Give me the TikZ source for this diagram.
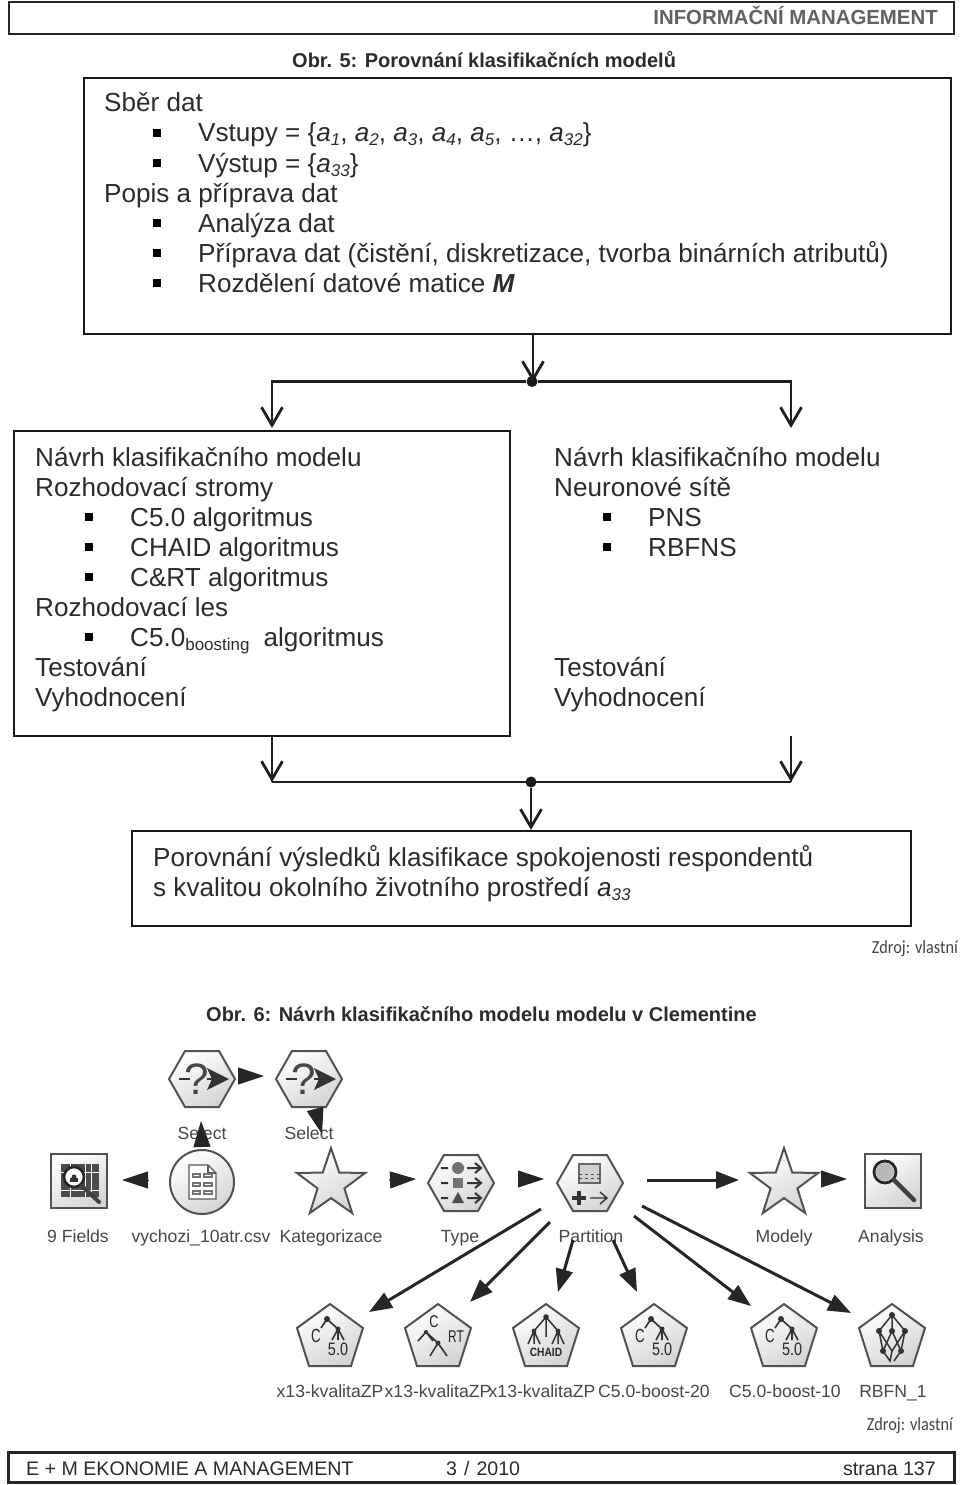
\documentclass[tikz,border=0pt]{standalone}
\usepackage{fontspec}
\setmainfont{Liberation Sans}
\newfontfamily\zdrojfont{Carlito}
\usetikzlibrary{arrows.meta,calc}
\definecolor{ink}{gray}{0.17}
\definecolor{soft}{gray}{0.27}
\newcommand{\bodyfont}{\fontsize{26.1}{30}\selectfont}
\newcommand{\sbs}[1]{\raisebox{-4pt}{\fontsize{17}{18}\selectfont #1}}
\newcommand{\ai}[1]{{\itshape a}\sbs{\itshape #1}}
\newcommand{\txtline}[4]{\node[bodytext] (#1) at (#2,#3+9) {#4};}
\newcommand{\bul}[2]{\fill[black] (#1-4,#2-4) rectangle (#1+4,#2+4);}
\newcommand{\hexpath}{(-33,0) -- (-17,-28) -- (17,-28) -- (33,0) -- (17,28) -- (-17,28) -- cycle}
\newcommand{\pentpath}{(0,-33) -- (33,-9) -- (21,29) -- (-21,29) -- (-33,-9) -- cycle}
\tikzset{
  x=1pt,y=-1pt,
  bodytext/.style={anchor=base west,inner sep=0pt,text=ink,font=\bodyfont},
  boxst/.style={draw=black!90,line width=2.2pt,inner sep=0pt,fill=none},
  flow/.style={draw=black!88,line width=2.8pt,-{Straight Barb[length=18pt,width=21pt,line width=2.8pt]}},
  bus/.style={draw=black!88,line width=2.8pt},
  dotst/.style={circle,fill=black!90,minimum size=11pt,inner sep=0pt},
  capt/.style={anchor=base west,inner sep=0pt,font=\fontsize{20}{22}\selectfont\bfseries,text=ink},
  zdroj/.style={anchor=base east,inner sep=0pt,xscale=.88,font=\zdrojfont\fontsize{18.5}{20}\selectfont,text=soft},
  foot/.style={anchor=base west,inner sep=0pt,font=\fontsize{19.6}{24}\selectfont,text=ink},
  iconpt/.style={circle,minimum size=10pt,inner sep=0pt},
  icl/.style={anchor=base,inner sep=0pt,text=black!72,font=\fontsize{17.6}{20}\selectfont},
  iconfill/.style={draw=black!68,line width=2pt,shade,shading=axis,left color=white,right color=black!17,shading angle=30},
  glyph/.style={draw=black!80,line width=2pt},
  glyphc/.style={fill=black!80},
  solidarr/.style={draw=black!85,line width=3pt,-{Triangle[length=23pt,width=17pt]}},
  headarr/.style={draw=black!85,line width=1pt,-{Triangle[length=26pt,width=17pt]}},
}
\begin{document}
\begin{tikzpicture}
\useasboundingbox (0,0) rectangle (960,1485);
% header
\node[draw=black!85,line width=2.6pt,minimum width=945pt,minimum height=32pt,inner sep=0pt] (hdr) at (481.5,18) {};
\node[anchor=base east,inner sep=0pt,font=\fontsize{20.4}{22}\selectfont\bfseries,text=black!62] (hdrt) at (938,25) {INFORMAČNÍ MANAGEMENT};
\node[capt] (cap5) at (292,68) {Obr. 5: Porovnání klasifikačních modelů};
% top box
\node[boxst,minimum width=867pt,minimum height=256pt] (boxA) at (517.5,206) {};
\txtline{a1}{104}{103}{Sběr dat}
\bul{157}{133}\txtline{a2}{198}{133}{Vstupy = \{\ai{1}, \ai{2}, \ai{3}, \ai{4}, \ai{5}, \dots, \ai{32}\}}
\bul{157}{163}\txtline{a3}{198}{163}{Výstup = \{\ai{33}\}}
\txtline{a4}{104}{193}{Popis a příprava dat}
\bul{157}{223}\txtline{a5}{198}{223}{Analýza dat}
\bul{157}{253}\txtline{a6}{198}{253}{Příprava dat (čistění, diskretizace, tvorba binárních atributů)}
\bul{157}{283}\txtline{a7}{198}{283}{Rozdělení datové matice {\bfseries\itshape M}}
% left box
\node[boxst,minimum width=496pt,minimum height=305pt] (boxB) at (262,583.5) {};
\txtline{b1}{35}{457}{Návrh klasifikačního modelu}
\txtline{b2}{35}{487}{Rozhodovací stromy}
\bul{89}{517}\txtline{b3}{130}{517}{C5.0 algoritmus}
\bul{89}{547}\txtline{b4}{130}{547}{CHAID algoritmus}
\bul{89}{577}\txtline{b5}{130}{577}{C\&RT algoritmus}
\txtline{b6}{35}{607}{Rozhodovací les}
\bul{89}{637}\txtline{b7}{130}{637}{C5.0\sbs{boosting}\hspace{14pt}algoritmus}
\txtline{b8}{35}{667}{Testování}
\txtline{b9}{35}{697}{Vyhodnocení}
% right text
\txtline{c1}{554}{457}{Návrh klasifikačního modelu}
\txtline{c2}{554}{487}{Neuronové sítě}
\bul{607}{517}\txtline{c3}{648}{517}{PNS}
\bul{607}{547}\txtline{c4}{648}{547}{RBFNS}
\txtline{c5}{554}{667}{Testování}
\txtline{c6}{554}{697}{Vyhodnocení}
% bottom flow box
\node[boxst,minimum width=779pt,minimum height=95pt] (boxC) at (521.5,878.5) {};
\txtline{d1}{153}{857}{Porovnání výsledků klasifikace spokojenosti respondentů}
\txtline{d2}{153}{887}{s kvalitou okolního životního prostředí \ai{33}}
% flow connectors
\node[dotst] (j1) at (532,381.5) {};
\node[dotst] (j2) at (531,782) {};
\coordinate (lt) at (272,428);
\coordinate (rt) at (791,428);
\coordinate (rb) at (791,736);
\draw[flow] (boxA.south -| j1) ++(1,0) -- ++(0,47);
\draw[flow] (j1) -| (lt);
\draw[flow,line width=2.2pt] (j1) -| (rt);
\draw[bus] (boxB.south -| lt) -- (lt |- j2) coordinate (lb);
\draw[bus] (rb) -- (rb |- j2) coordinate (rbb);
\draw[flow] (boxB.south -| lt) -- (lt |- j2);
\draw[flow] (rb) -- (rb |- j2);
\draw[bus] (lb) -- (rbb);
\draw[flow] (j2) -- (boxC.north -| j2);
\node[zdroj] (z1) at (958,953) {Zdroj: vlastní};
\node[capt] (cap6) at (206,1021) {Obr. 6: Návrh klasifikačního modelu modelu v Clementine};
% icons: anchor nodes
\node[iconpt] (sel1) at (202,1079) {};
\node[iconpt] (sel2) at (309,1079) {};
\node[iconpt] (fields) at (79,1181) {};
\node[iconpt] (csv) at (202,1182) {};
\node[iconpt] (kat) at (331,1184) {};
\node[iconpt] (type) at (461,1183) {};
\node[iconpt] (part) at (590,1183) {};
\node[iconpt] (mod) at (784,1184) {};
\node[iconpt] (ana) at (893,1181) {};
\node[iconpt] (p1) at (330,1337) {};
\node[iconpt] (p2) at (438,1337) {};
\node[iconpt] (p3) at (546,1337) {};
\node[iconpt] (p4) at (654,1337) {};
\node[iconpt] (p5) at (784,1337) {};
\node[iconpt] (p6) at (892,1337) {};
% select hexagons
\foreach \c in {sel1,sel2}{
\begin{scope}[shift={(\c)}]
\draw[iconfill] \hexpath;
\draw[glyph,line width=2.6pt] (-23,0) -- (-12,0) (5,0) -- (14,0);
\fill[glyphc] (5,-11) -- (27,0) -- (5,11) -- (10,0) -- cycle;
\node[inner sep=0pt,font=\fontsize{44}{44}\selectfont,text=black!72] (q\c) at (-5,0) {?};
\end{scope}}
% type hexagon
\begin{scope}[shift={(type)}]
\draw[iconfill] \hexpath;
\foreach \yy in {-15,0,15}{
  \draw[glyph] (-20,\yy) -- (-13,\yy) (6,\yy) -- (20,\yy) (14,\yy-5) -- (20,\yy) -- (14,\yy+5);}
\fill[black!55] (-3,-15) circle (6);
\fill[black!55] (-8,-5) rectangle (2,5);
\fill[black!70] (-9,20) -- (-3,9) -- (3,20) -- cycle;
\end{scope}
% partition hexagon
\begin{scope}[shift={(part)}]
\draw[iconfill] \hexpath;
\draw[black!60,fill=black!18,line width=1.2pt] (-11,-19) rectangle (10,0);
\draw[black!70,line width=1pt,dashed] (-11,-9) -- (10,-9) (-11,-5) -- (10,-5);
\draw[glyph,line width=4pt] (-18,15) -- (-4,15) (-11,8) -- (-11,22);
\draw[glyph,line width=1.4pt] (0,15) -- (17,15) (10,9) -- (17,15) -- (10,21);
\end{scope}
% stars
\foreach \c in {kat,mod}{
\begin{scope}[shift={(\c)}]
\draw[iconfill,line join=miter] (0,-36) -- (8.3,-11.4) -- (34.2,-11.1) -- (13.4,4.4) -- (21.2,29.1) -- (0,14.1) -- (-21.2,29.1) -- (-13.4,4.4) -- (-34.2,-11.1) -- (-8.3,-11.4) -- cycle;
\end{scope}}
% csv
\begin{scope}[shift={(csv)}]
\draw[iconfill] (0,0) circle (32);
\draw[black!65,fill=white,line width=1.3pt] (-13,-17) -- (6,-17) -- (14,-9) -- (14,17) -- (-13,17) -- cycle;
\draw[black!65,line width=1.3pt] (6,-17) -- (6,-9) -- (14,-9);
\foreach \yy in {-8,1,9}{\draw[black!55,line width=1.2pt] (-9,\yy) rectangle (-2,\yy+3) (2,\yy) rectangle (10,\yy+3);}
\end{scope}
% 9 fields
\begin{scope}[shift={(fields)}]
\draw[iconfill] (-28,-27) rectangle (28,27);
\fill[black!70] (-18,-17) rectangle (20,16);
\foreach \xx in {-9,6,12}{\draw[white,line width=.8pt] (\xx,-17) -- (\xx,16);}
\draw[white,line width=.8pt] (-18,-9) -- (20,-9) (-18,9) -- (20,9);
\fill[white] (-5,-4) circle (10);
\draw[black!85,line width=2.6pt] (-5,-4) circle (10);
\fill[black!80] (-9,1) rectangle (-1,-3); \fill[black!80] (-5,-4) circle (2.5);
\draw[black!75,line width=4pt,line cap=round] (3,5) -- (20,21);
\end{scope}
% analysis
\begin{scope}[shift={(ana)}]
\draw[iconfill] (-28,-27) rectangle (28,27);
\fill[black!28] (-8,-9) circle (9);
\draw[black!85,line width=2.8pt] (-8,-9) circle (11);
\draw[black!75,line width=4.5pt,line cap=round] (1,-1) -- (21,19);
\end{scope}
% pentagons
\foreach \c in {p1,p2,p3,p4,p5,p6}{
\begin{scope}[shift={(\c)}]
\draw[iconfill] \pentpath;
\end{scope}}
\foreach \c/\n in {p1/m1,p4/m4,p5/m5}{
\begin{scope}[shift={(\c)}]
\draw[glyph,line width=1.6pt] (-3,-18) -- (-9,-9) (-3,-18) -- (8,-8) (8,-8) -- (2,3) (8,-8) -- (8,3) (8,-8) -- (14,3);
\fill[glyphc] (-3,-18) circle (3); \fill[glyphc] (8,-8) circle (2.5);
\node[inner sep=0pt,font=\fontsize{19}{19}\selectfont,xscale=.7,text=black!85] (c\n) at (-14,-1) {C};
\node[inner sep=0pt,font=\fontsize{18}{18}\selectfont,xscale=.8,text=black!85] (v\n) at (8,12) {5.0};
\end{scope}}
\begin{scope}[shift={(p2)}]
\draw[glyph,line width=1.6pt] (-20,4) -- (-12,-5) -- (-5,4) (-12,-5) -- (0,6) (0,6) -- (-8,19) (0,6) -- (9,19);
\fill[glyphc] (-12,-5) circle (2); \fill[glyphc] (0,6) circle (2.5);
\node[inner sep=0pt,font=\fontsize{17}{17}\selectfont,xscale=.75,text=black!85] (cm2) at (-4,-15) {C};
\node[inner sep=0pt,font=\fontsize{17}{17}\selectfont,xscale=.7,text=black!85] (vm2) at (18,0) {RT};
\end{scope}
\begin{scope}[shift={(p3)}]
\draw[glyph,line width=1.5pt] (0,-20) -- (-12,-6) (0,-20) -- (12,-6) (0,-20) -- (0,0) (-12,-6) -- (-18,7) (-12,-6) -- (-12,7) (-12,-6) -- (-6,7) (12,-6) -- (6,7) (12,-6) -- (12,7) (12,-6) -- (18,7);
\fill[glyphc] (0,-20) circle (2.8); \fill[glyphc] (-12,-6) circle (2.4); \fill[glyphc] (12,-6) circle (2.4);
\node[inner sep=0pt,font=\fontsize{12}{12}\selectfont\bfseries,xscale=.85,text=black!85] (vm3) at (0,15) {CHAID};
\end{scope}
\begin{scope}[shift={(p6)}]
\draw[glyph,line width=1.5pt] (0,-22) -- (-13,-6) (0,-22) -- (13,-6) (0,-22) -- (0,-6) (-13,-6) -- (-9,14) (-13,-6) -- (0,14) (0,-6) -- (-9,14) (0,-6) -- (9,14) (13,-6) -- (9,14) (13,-6) -- (0,14) (-9,14) -- (-2,24) -- (0,14) (9,14) -- (2,24) ;
\foreach \p in {(0,-22),(-13,-6),(0,-6),(13,-6),(-9,14),(9,14)}{\fill[glyphc] \p circle (3);}
\end{scope}
% icon labels
\node[icl] (l1) at (202,1139) {Select};
\node[icl] (l2) at (309,1139) {Select};
\node[icl] (l3) at (78,1242) {9 Fields};
\node[icl] (l4) at (201,1242) {vychozi\_10atr.csv};
\node[icl] (l5) at (331,1242) {Kategorizace};
\node[icl] (l6) at (460,1242) {Type};
\node[icl] (l7) at (591,1242) {Partition};
\node[icl] (l8) at (784,1242) {Modely};
\node[icl] (l9) at (891,1242) {Analysis};
\node[icl] (n1) at (330,1397) {x13-kvalitaZP};
\node[icl] (n2) at (438,1397) {x13-kvalitaZP};
\node[icl] (n3) at (542,1397) {x13-kvalitaZP};
\node[icl] (n4) at (654,1397) {C5.0-boost-20};
\node[icl] (n5) at (785,1397) {C5.0-boost-10};
\node[icl] (n6) at (893,1397) {RBFN\_1};
% model arrows
\draw[headarr] ($(csv)+(-54,-2)$) -- ($(fields)+(43,-1)$);
\draw[headarr] ($(sel1)+(37,-3)$) -- ($(sel2)+(-45,-3)$);
\draw[headarr] ($(csv)+(0,-35)$) -- ($(sel1)+(-1,42)$);
\draw[headarr] ($(sel2)+(7,33)$) -- ($(kat)+(-9,-50)$);
\draw[headarr] ($(kat)+(58,-4)$) -- ($(type)+(-45,-4)$);
\draw[headarr] ($(type)+(57,-4)$) -- ($(part)+(-46,-4)$);
\draw[solidarr] ($(part)+(57,-3)$) -- ($(mod)+(-45,-4)$);
\draw[headarr] ($(mod)+(37,-5)$) -- ($(ana)+(-46,-2)$);
\draw[solidarr] ($(part)+(-49,26)$) -- ($(p1)+(39,-25)$);
\draw[solidarr] ($(part)+(-40,39)$) -- ($(p2)+(32,-35)$);
\draw[solidarr] ($(part)+(-17,57)$) -- ($(p3)+(12,-45)$);
\draw[solidarr] ($(part)+(23,57)$) -- ($(p4)+(-17,-45)$);
\draw[solidarr] ($(part)+(44,33)$) -- ($(p5)+(-33,-31)$);
\draw[solidarr] ($(part)+(52,23)$) -- ($(p6)+(-41,-24)$);
\node[zdroj] (z2) at (953,1430) {Zdroj: vlastní};
% footer
\node[draw=black!85,line width=3pt,minimum width=946pt,minimum height=30pt,inner sep=0pt] (ftr) at (481,1467) {};
\node[foot] (f1) at (26,1475) {E + M EKONOMIE A MANAGEMENT};
\node[foot] (f2) at (446,1475) {3\hspace{7pt}/\hspace{7pt}2010};
\node[foot,anchor=base east] (f3) at (936,1475) {strana 137};
\end{tikzpicture}
\end{document}
